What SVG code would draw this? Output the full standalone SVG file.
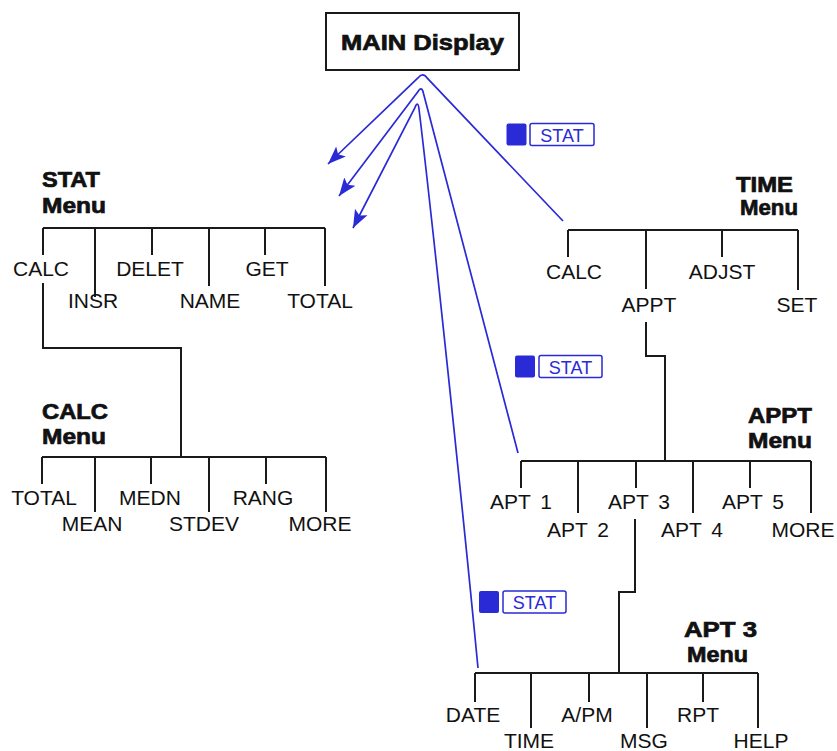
<svg xmlns="http://www.w3.org/2000/svg" width="837" height="751" viewBox="0 0 837 751">
  <style>
    .ln { fill: none; stroke: #1a1a1a; stroke-width: 2; }
    .bl { fill: none; stroke: #2a2ad6; stroke-width: 1.7; }
    .lab { font-family: "Liberation Sans", Arial, sans-serif; font-size: 21px; fill: #111; text-anchor: middle; }
    .ttl { font-family: "Liberation Sans", Arial, sans-serif; font-size: 21.5px; font-weight: bold; fill: #111; stroke: #111; stroke-width: 0.7px; }
    .apt { word-spacing: 4px; }
    .kf { fill: #2a2ad6; }
    .kb { fill: #fff; stroke: #2a2ad6; stroke-width: 1.5; }
    .kt { font-family: "Liberation Sans", Arial, sans-serif; font-size: 18px; fill: #2a2ad6; text-anchor: middle; }
  </style>
  <defs>
    <marker id="ah" markerUnits="userSpaceOnUse" markerWidth="20" markerHeight="16" refX="18" refY="8" orient="auto">
      <path d="M0,1 L18,8 L0,15 L4,8 Z" fill="#2a2ad6"/>
    </marker>
  </defs>
  <rect width="837" height="751" fill="#fff"/>

  <g id="main-display">
    <rect x="326" y="13" width="193" height="57" fill="#fff" stroke="#1a1a1a" stroke-width="2"/>
    <text class="ttl" x="341" y="50" font-size="22" textLength="163" lengthAdjust="spacingAndGlyphs">MAIN Display</text>
  </g>

  <g id="stat-menu">
    <text class="ttl" x="42" y="187" textLength="58" lengthAdjust="spacingAndGlyphs">STAT</text>
    <text class="ttl" x="42" y="213" textLength="64" lengthAdjust="spacingAndGlyphs">Menu</text>
    <path class="ln" d="M43,228 H325 M43,228 V255 M95,228 V297 M152,228 V255 M209,228 V286 M265,228 V255 M325,228 V286"/>
    <text class="lab" x="41" y="276">CALC</text>
    <text class="lab" x="93" y="308">INSR</text>
    <text class="lab" x="150" y="276">DELET</text>
    <text class="lab" x="210" y="308">NAME</text>
    <text class="lab" x="267" y="276">GET</text>
    <text class="lab" x="320" y="308">TOTAL</text>
  </g>

  <g id="calc-menu">
    <text class="ttl" x="42" y="419" textLength="66" lengthAdjust="spacingAndGlyphs">CALC</text>
    <text class="ttl" x="42" y="444" textLength="64" lengthAdjust="spacingAndGlyphs">Menu</text>
    <path class="ln" d="M42,457 H326 M42,457 V484 M95,457 V512 M151,457 V484 M209,457 V512 M266,457 V484 M326,457 V512"/>
    <text class="lab" x="44" y="505">TOTAL</text>
    <text class="lab" x="92" y="531">MEAN</text>
    <text class="lab" x="150" y="505">MEDN</text>
    <text class="lab" x="204" y="531">STDEV</text>
    <text class="lab" x="263" y="505">RANG</text>
    <text class="lab" x="320" y="531">MORE</text>
  </g>

  <g id="time-menu">
    <text class="ttl" x="736" y="192" textLength="57" lengthAdjust="spacingAndGlyphs">TIME</text>
    <text class="ttl" x="740" y="215" textLength="58" lengthAdjust="spacingAndGlyphs">Menu</text>
    <path class="ln" d="M568,230 H798 M568,230 V257 M646,230 V289 M722,230 V257 M798,230 V290"/>
    <text class="lab" x="574" y="279">CALC</text>
    <text class="lab" x="649" y="312">APPT</text>
    <text class="lab" x="722" y="279">ADJST</text>
    <text class="lab" x="797" y="312">SET</text>
  </g>

  <g id="appt-menu">
    <text class="ttl" x="748" y="423" textLength="64" lengthAdjust="spacingAndGlyphs">APPT</text>
    <text class="ttl" x="748" y="448" textLength="64" lengthAdjust="spacingAndGlyphs">Menu</text>
    <path class="ln" d="M521,461 H811 M521,461 V488 M578,461 V513 M636,461 V488 M693,461 V513 M750,461 V488 M811,461 V513"/>
    <text class="lab apt" x="521" y="509">APT 1</text>
    <text class="lab apt" x="578" y="537">APT 2</text>
    <text class="lab apt" x="639" y="509">APT 3</text>
    <text class="lab apt" x="692" y="537">APT 4</text>
    <text class="lab apt" x="753" y="509">APT 5</text>
    <text class="lab" x="803" y="537">MORE</text>
  </g>

  <g id="apt3-menu">
    <text class="ttl" x="684" y="637" textLength="73" lengthAdjust="spacingAndGlyphs">APT 3</text>
    <text class="ttl" x="687" y="662" textLength="61" lengthAdjust="spacingAndGlyphs">Menu</text>
    <path class="ln" d="M475,673 H758 M475,673 V702 M531,673 V728 M589,673 V702 M647,673 V728 M703,673 V702 M758,673 V728"/>
    <text class="lab" x="473" y="722">DATE</text>
    <text class="lab" x="529" y="748">TIME</text>
    <text class="lab" x="587" y="722">A/PM</text>
    <text class="lab" x="644" y="748">MSG</text>
    <text class="lab" x="698" y="722">RPT</text>
    <text class="lab" x="761" y="748">HELP</text>
  </g>

  <g id="connectors">
    <path class="ln" d="M43,283 V348 H181 V457"/>
    <path class="ln" d="M646,322 V356 H665 V461"/>
    <path class="ln" d="M635,519 V592 H619 V673"/>
    <path class="bl" marker-end="url(#ah)" d="M563,221 L427.5,78.4 Q422.7,71.5 417.7,78.2 L328,164"/>
    <path class="bl" marker-end="url(#ah)" d="M518,453 L423.5,93.5 Q421.7,85 417.5,92.3 L339,196"/>
    <path class="bl" marker-end="url(#ah)" d="M478,668 C460,480 430,200 419,109 Q418,100 414.8,107.9 L353,228"/>
  </g>

  <g id="key-stat-1">
    <rect class="kf" x="506.5" y="123.5" width="20" height="22" rx="2"/>
    <rect class="kb" x="530" y="123.5" width="64" height="22" rx="2"/>
    <text class="kt" x="562" y="141.5">STAT</text>
  </g>
  <g id="key-stat-2">
    <rect class="kf" x="515" y="355.5" width="20" height="22" rx="2"/>
    <rect class="kb" x="539" y="355.5" width="63" height="22" rx="2"/>
    <text class="kt" x="570.5" y="373.5">STAT</text>
  </g>
  <g id="key-stat-3">
    <rect class="kf" x="479" y="591" width="20" height="22" rx="2"/>
    <rect class="kb" x="503" y="591" width="63" height="22" rx="2"/>
    <text class="kt" x="534.5" y="609">STAT</text>
  </g>
</svg>
